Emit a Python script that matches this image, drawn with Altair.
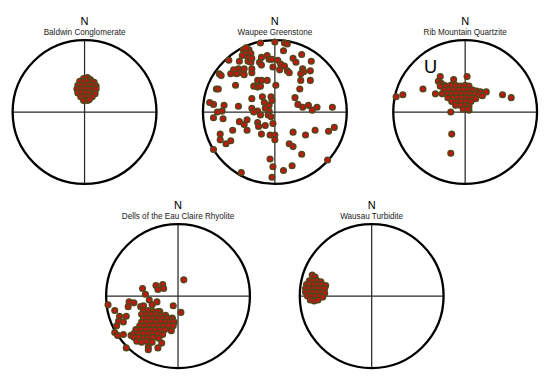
import altair as alt
import pandas as pd

R = 75  # net radius in data units (pole positions read relative to each net centre)

# ---------- Baldwin Conglomerate ----------
BALDWIN_X = [-1, 3, 6, -5, -1, 3, 7, 10, -7, -3, 1, 5, 9, 12, -8, -4, 0, 4, 8, 12,
             -7, -3, 1, 5, 9, 11, -4, 0, 4, 8, -1, 3, 5]
BALDWIN_Y = [35, 36, 34, 32, 32, 32, 32, 31, 28, 28, 28, 28, 28, 27, 24, 24, 24, 24, 24, 24,
             20, 20, 20, 20, 20, 19, 16, 16, 16, 16, 12, 12, 13]

# ---------- Waupee Greenstone ----------
WAUPEE_X = [-15, 0, 10, 13, 9, -33, -27, -30, -25, -28, -28, -25, -14, -8, -6, -3, 3, 28, 38, 19,
            22, -16, -14, -37, -48, -43, -38, -37, -32, -32, -46, -58, -56, -24, -24, -2, 6, 10, 13, 15,
            5, 29, 30, 27, 37, 37, 27, 26, 21, 24, 29, 35, 44, 39, 60, -18, -14, -8, -22, -18,
            -15, -41, 1, -24, -13, -4, -3, -11, -61, -59, -64, -68, -53, -38, -24, -6, -10, -55, -18, -6,
            -40, -24, -34, -30,
            -64, -60, -54, -37, -32, -29, -44, -29, -57, -57, -51, -46, -64, -18, -17, -10, -2, -14, -5, 0,
            0, -22, -15, -7, -4, 19, 32, 42, 56, 62, 15, 19, 28, 55, -5, -2, 18, 9, -3, -35]
WAUPEE_Y = [72, 73, 72, 71, 64, 65, 65, 61, 61, 57, 53, 52, 57, 59, 55, 55, 54, 60, 53, 56,
            52, 52, 49, 53, 54, 44, 45, 41, 45, 39, 40, 40, 38, 41, 45, 47, 50, 48, 43, 41,
            44, 45, 42, 40, 43, 33, 33, 24, 15, 8, 5, 7, 5, 2, 5, 33, 33, 33, 27, 26,
            27, 28, 28, 14, 16, 16, 12, 10, 24, 24, 8, 10, 7, 6, 4, 7, 4, 1, 1, 1,
            40, 56, 59, 67,
            -6, 0, -7, -10, -13, -8, -19, -19, -23, -29, -33, -30, -39, -11, -15, -14, -12, -23, -24, -24,
            -29, 0, -3, -3, -5, -21, -24, -19, -20, -16, -33, -36, -44, -50, -49, -57, -56, -61, -68, -63]

# ---------- Rib Mountain Quartzite ----------
RIB_X = [-26, -12, 2, -44, -31, -72, -65, 22, 39, 48, -15, -14, -15, 4,
         -28, -25, -22, -26,
         -20, -15, -10, -5, 0, 4,
         -22, -17, -12, -7, -2, 3, 8, 12, 16,
         -24, -19, -14, -9, -4, 1, 6, 10, 14, 18,
         -18, -13, -8, -3, 2, 7, 11,
         -14, -9, -4, 1, 6,
         -10, -5, 0, 4,
         -2, 3]
RIB_Y = [37, 34, 37, 24, 19, 16, 18, 21, 18, 15, 0, -23, -43, 2,
         32, 30, 28, 27,
         27, 28, 28, 27, 28, 27,
         23, 23, 23, 23, 23, 23, 23, 22, 21,
         19, 19, 19, 19, 19, 19, 19, 19, 18, 17,
         15, 15, 15, 15, 15, 15, 14,
         11, 11, 11, 11, 11,
         7, 7, 7, 6,
         3, 3]

# ---------- Dells of the Eau Claire Rhyolite ----------
DELLS_X = [6, -23, -16, -21, -15, -37, -34, -30, -22, -27, -51, -46, -73, -52, -39, -36, -5, 3,
           -66, -19, -61, -54, -62, -64, -57, -66, -63, -57, -54, -31, -31, -21, -49, -6, -7, -17,
           -36, -31, -26, -21,
           -38, -33, -28, -23, -18, -13,
           -36, -31, -26, -21, -16, -11, -6,
           -38, -33, -28, -23, -18, -13, -8, -4,
           -40, -35, -30, -25, -20, -15, -10, -5,
           -44, -39, -34, -29, -24, -19, -14,
           -46, -41, -36, -31, -26, -21, -16,
           -46, -41, -36, -31, -26, -20,
           -43, -38, -33, -27]
DELLS_Y = [17, 11, 12, 7, 8, 8, 2, -4, -6, -9, -6, -7, -9, -11, -11, -10, -10, -17,
           -15, -16, -21, -21, -26, -31, -27, -38, -41, -40, -54, -53, -56, -54, -41, -23, -36, -49,
           -15, -15, -16, -16,
           -19, -19, -19, -19, -20, -20,
           -23, -23, -23, -23, -23, -23, -24,
           -27, -27, -27, -27, -27, -27, -27, -27,
           -31, -31, -31, -31, -31, -31, -31, -31,
           -35, -35, -35, -35, -35, -35, -35,
           -39, -39, -39, -39, -39, -39, -40,
           -43, -43, -44, -44, -43, -44,
           -47, -48, -47, -48]

# ---------- Wausau Turbidite ----------
WAUSAU_X = [-62, -59, -65, -61, -57, -53, -68, -64, -60, -56, -52, -48,
            -69, -65, -61, -57, -53, -49, -69, -65, -61, -57, -53, -49,
            -67, -63, -59, -55, -51, -64, -60, -56]
WAUSAU_Y = [22, 20, 16, 16, 16, 15, 12, 12, 12, 12, 12, 11,
            8, 8, 8, 8, 8, 8, 4, 4, 4, 4, 4, 3,
            0, 0, 0, 0, -1, -4, -5, -4]

NAMES = ["Baldwin Conglomerate", "Waupee Greenstone", "Rib Mountain Quartzite",
         "Dells of the Eau Claire Rhyolite", "Wausau Turbidite"]

FONT = "Liberation Sans"
HALF_W = 76.5
YDOM = [-78, 99.5]
W = 2 * HALF_W
H = YDOM[1] - YDOM[0]


def panel(name, xs, ys, extra=None, shift=0.0):
    xdom = [-HALF_W + shift, HALF_W + shift]
    xsc = alt.Scale(domain=xdom, nice=False, zero=False)
    ysc = alt.Scale(domain=YDOM, nice=False, zero=False)

    def enc(layer):
        return layer.encode(x=alt.X("x:Q", scale=xsc, axis=None),
                            y=alt.Y("y:Q", scale=ysc, axis=None))

    pts = pd.DataFrame({"x": xs, "y": ys})
    cross = pd.DataFrame({"x": [-R, 0], "x2": [R, 0], "y": [0, -R], "y2": [0, R]})
    centre = pd.DataFrame({"x": [0], "y": [0]})
    north = pd.DataFrame({"x": [0], "y": [93.5], "t": ["N"]})
    label = pd.DataFrame({"x": [0], "y": [83], "t": [name]})

    rules = alt.Chart(cross).mark_rule(color="#2a2a2a", strokeWidth=1.3).encode(
        x=alt.X("x:Q", scale=xsc, axis=None), x2="x2:Q",
        y=alt.Y("y:Q", scale=ysc, axis=None), y2="y2:Q",
    )
    # Vega symbol size is the area of the bounding box: (2R)^2
    ring = enc(alt.Chart(centre).mark_point(
        shape="circle", filled=False, size=(2 * R) ** 2,
        stroke="black", strokeWidth=2.4, opacity=1))
    dots = enc(alt.Chart(pts).mark_circle(
        size=34, fill="#c81414", stroke="#55461a", strokeWidth=1.6, opacity=1))
    ntext = enc(alt.Chart(north).mark_text(
        font=FONT, fontSize=11.5, color="black", baseline="middle")).encode(text="t:N")
    ltext = enc(alt.Chart(label).mark_text(
        font=FONT, fontSize=8.5, color="#222222", baseline="middle")).encode(text="t:N")
    layers = [rules, ring, dots, ntext, ltext]
    if extra is not None:
        layers.append(enc(extra))
    return alt.layer(*layers).properties(width=W, height=H)


u_mark = alt.Chart(pd.DataFrame({"x": [-36], "y": [47], "t": ["U"]})).mark_text(
    font=FONT, fontSize=19, color="black", baseline="middle").encode(text="t:N")

p1 = panel(NAMES[0], BALDWIN_X, BALDWIN_Y)
p2 = panel(NAMES[1], WAUPEE_X, WAUPEE_Y, shift=3)
p3 = panel(NAMES[2], RIB_X, RIB_Y, u_mark)
p4 = panel(NAMES[3], DELLS_X, DELLS_Y)
p5 = panel(NAMES[4], WAUSAU_X, WAUSAU_Y)

row1 = alt.hconcat(p1, p2, p3, spacing=37.5)
row2 = alt.hconcat(p4, p5, spacing=41)

chart = alt.vconcat(row1, row2, spacing=11, center=True, padding=0,
                    background="white").configure_view(stroke=None)

chart.save("out.html", embed_options={"renderer": "svg", "actions": False})
